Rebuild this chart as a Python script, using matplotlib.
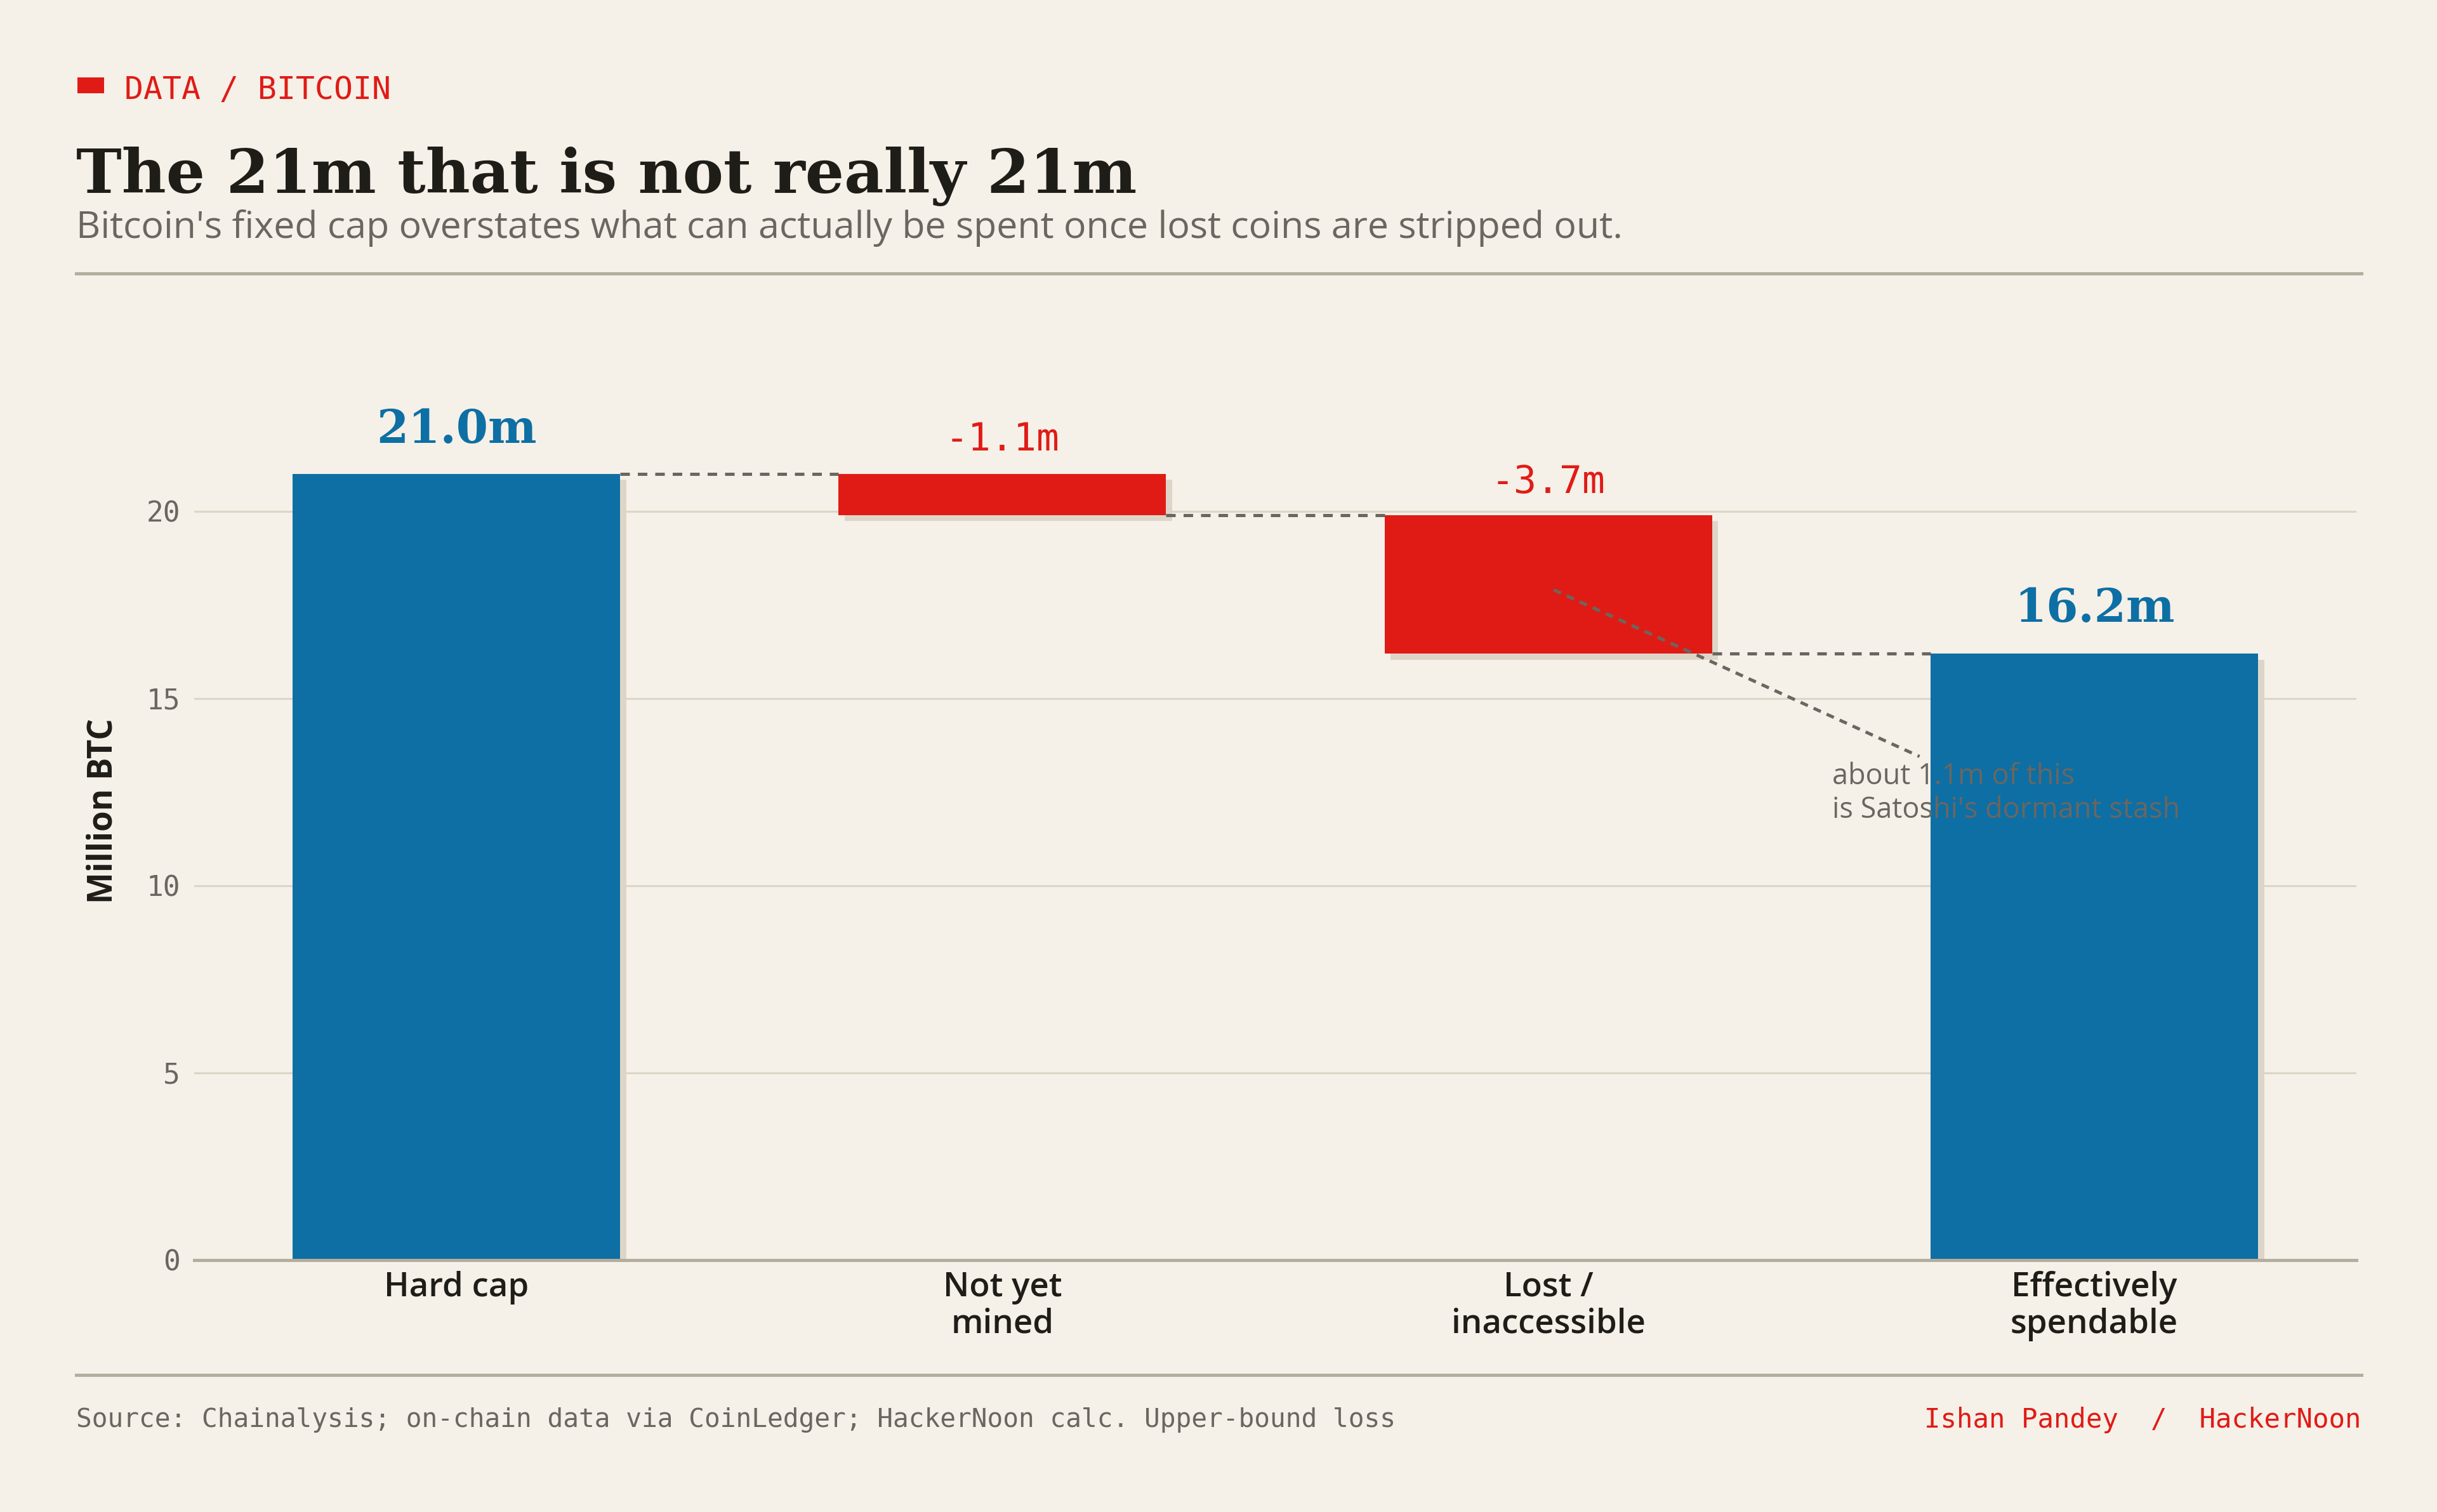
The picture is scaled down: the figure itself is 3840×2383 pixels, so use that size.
import numpy as np
import matplotlib
matplotlib.use('Agg')
import matplotlib.pyplot as plt
import matplotlib.patheffects as pe
from matplotlib.patches import Rectangle

# data
categories = ['Hard cap', 'Not yet\nmined', 'Lost /\ninaccessible', 'Effectively\nspendable']
values = [21.0, -1.1, -3.7, 16.2]
kinds = ['total', 'delta', 'delta', 'total']
labels = ['21.0m', '-1.1m', '-3.7m', '16.2m']
yticks = [0, 5, 10, 15, 20]

BG = '#f5f0e8'
BLUE = '#0d6fa4'
RED = '#e01b16'
INK = '#1f1d18'
GRAY = '#6b6660'
GRID = '#dcd6c6'
RULE = '#b4ae9e'
SHADOW = '#ddd6c8'

SANS = ['Open Sans', 'DejaVu Sans']
MONO = ['DejaVu Sans Mono']
SERIF = ['DejaVu Serif']

fig = plt.figure(figsize=(19.2, 11.915), dpi=200, facecolor=BG)
ax = fig.add_axes([0.0797, 0.1666, 0.8872, 0.6191])
ax.set_facecolor(BG)

# waterfall geometry
x = np.arange(len(categories))
bottoms, heights, colors = [], [], []
running = 0.0
for v, k in zip(values, kinds):
    if k == 'total':
        bottoms.append(0)
        heights.append(v)
        colors.append(BLUE)
        running = v
    else:
        bottoms.append(running + v)
        heights.append(-v)
        colors.append(RED)
        running = running + v

bars = ax.bar(x, heights, bottom=bottoms, width=0.6, color=colors, zorder=3,
              linewidth=0)
for b in bars:
    b.set_path_effects([pe.SimplePatchShadow(offset=(3.5, -3.5), shadow_rgbFace=SHADOW, alpha=1),
                        pe.Normal()])

# connectors
for i in range(len(x) - 1):
    lvl = heights[i] if kinds[i] == 'total' else bottoms[i]
    ax.plot([x[i] + 0.3, x[i + 1] - 0.3], [lvl, lvl], color=GRAY, lw=1.8,
            linestyle=(0, (3, 2.5)), zorder=4)

# value labels
offsets = [25, 19, 18.5, 25.5]
for i, (lab, k) in enumerate(zip(labels, kinds)):
    top = bottoms[i] + heights[i]
    if k == 'total':
        ax.annotate(lab, (x[i], top), xytext=(0, offsets[i]), textcoords='offset points',
                    ha='center', va='center', fontsize=26, fontweight='bold',
                    family=SERIF, color=BLUE)
    else:
        ax.annotate(lab, (x[i], top), xytext=(0, offsets[i]), textcoords='offset points',
                    ha='center', va='center', fontsize=21.5, family=MONO, color=RED)

# annotation
ax.plot([2.01, 2.68], [17.9, 13.45], color=GRAY, lw=1.8, linestyle=(0, (2.5, 2)), zorder=5)
ax.text(2.52, 13.3, "about 1.1m of this\nis Satoshi's dormant stash", ha='left', va='top',
        fontsize=16.2, family=SANS, color=GRAY, linespacing=1.2, zorder=6)

# axes styling
ax.set_xlim(-0.48, 3.48)
ax.set_ylim(0, 25)
ax.set_yticks(yticks)
ax.set_yticklabels([str(t) for t in yticks], family=MONO, fontsize=16, color=GRAY)
ax.set_xticks(x)
ax.set_xticklabels(categories, family=SANS, fontsize=19, fontweight='semibold', color=INK,
                   linespacing=1.13)
ax.tick_params(axis='both', length=0)
ax.tick_params(axis='y', pad=8)
ax.tick_params(axis='x', pad=6)
for t in yticks[1:]:
    ax.axhline(t, color=GRID, lw=1.1, zorder=0)
for s in ['top', 'right', 'left']:
    ax.spines[s].set_visible(False)
ax.spines['bottom'].set_color(RULE)
ax.spines['bottom'].set_linewidth(1.8)
ax.spines['bottom'].set_zorder(5)
ax.text(-0.042, 0.48, 'Million BTC', transform=ax.transAxes, rotation=90, ha='center',
        va='center', fontsize=19, fontweight='bold', family=SANS, color=INK)

# header
fig.patches.append(Rectangle((0.0318, 0.9383), 0.0109, 0.0105, transform=fig.transFigure,
                             color=RED, lw=0))
fig.text(0.051, 0.9404, 'DATA / BITCOIN', ha='left', va='center', fontsize=17.9,
         family=MONO, color=RED)
fig.text(0.0313, 0.8725, 'The 21m that is not really 21m', ha='left', va='baseline',
         fontsize=34.7, fontweight='bold', family=SERIF, color=INK)
fig.text(0.0313, 0.8426, "Bitcoin's fixed cap overstates what can actually be spent once lost coins are stripped out.",
         ha='left', va='baseline', fontsize=21.3, family=SANS, color=GRAY)
fig.add_artist(plt.Line2D([0.0313, 0.969], [0.8191, 0.8191], transform=fig.transFigure,
                          color=RULE, lw=1.8))

# footer
fig.add_artist(plt.Line2D([0.0313, 0.969], [0.0906, 0.0906], transform=fig.transFigure,
                          color=RULE, lw=1.8))
fig.text(0.0313, 0.0608, 'Source: Chainalysis; on-chain data via CoinLedger; HackerNoon calc. Upper-bound loss',
         ha='left', va='center', fontsize=14.8, family=MONO, color=GRAY)
fig.text(0.969, 0.0608, 'Ishan Pandey  /  HackerNoon', ha='right', va='center',
         fontsize=15.2, family=MONO, color=RED)

fig.savefig('out.png', dpi=200, facecolor=BG)
